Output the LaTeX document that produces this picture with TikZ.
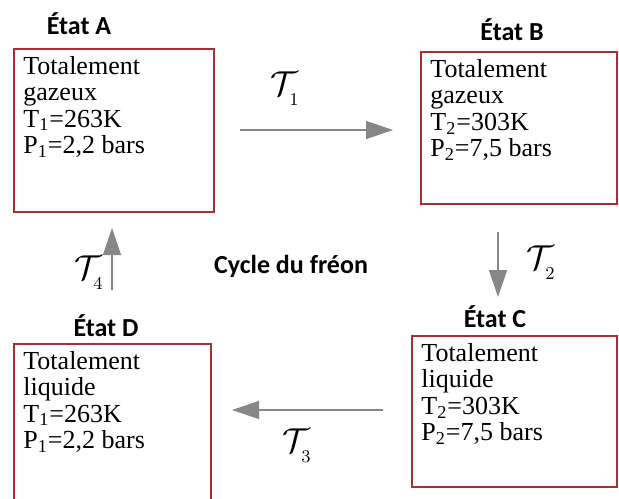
\documentclass[tikz,border=0pt]{standalone}
\usepackage{fontspec}
\setmainfont{Liberation Serif}
\newfontfamily\titrefont{Carlito}
\usetikzlibrary{arrows.meta}

\definecolor{bordure}{RGB}{168,48,48}
\definecolor{gris}{RGB}{135,135,135}

\tikzset{
  etat/.style={draw=bordure, line width=0.6pt, rectangle, anchor=north west, inner sep=0pt, outer sep=0pt},
  contenu/.style={anchor=north west, align=left, inner xsep=4.5pt, inner ysep=3.5pt,
    font=\fontsize{13}{13.2}\selectfont},
  titre/.style={font=\titrefont\bfseries\fontsize{13}{15}\selectfont},
  fleche/.style={draw=gris, line width=0.6pt, -{Triangle[length=13.5pt,width=9pt,fill=gris]}},
  transfo/.style={font=\fontsize{19}{21}\selectfont}
}
\newcommand{\transf}[1]{$\mathcal{T}_{\lower2.5pt\hbox{$\scriptscriptstyle #1$}}$}

\begin{document}
\begin{tikzpicture}[x=0.5pt,y=-0.5pt]
  % Cadre
  \clip (0,0) rectangle (619,498);
  % Etats
  \node[etat, minimum width=100pt, minimum height=81.5pt] (A) at (14,49) {};
  \node[etat, minimum width=98pt, minimum height=76pt] (B) at (421,52) {};
  \node[etat, minimum width=102.5pt, minimum height=75.5pt] (C) at (412,336) {};
  \node[etat, minimum width=98.5pt, minimum height=88pt] (D) at (14,344) {};
  % Contenus
  \node[contenu] (cA) at (A.north west) {Totalement\\gazeux\\T\textsubscript{1}=263K\\P\textsubscript{1}=2,2 bars};
  \node[contenu] (cB) at (B.north west) {Totalement\\gazeux\\T\textsubscript{2}=303K\\P\textsubscript{2}=7,5 bars};
  \node[contenu] (cC) at (C.north west) {Totalement\\liquide\\T\textsubscript{2}=303K\\P\textsubscript{2}=7,5 bars};
  \node[contenu] (cD) at (D.north west) {Totalement\\liquide\\T\textsubscript{1}=263K\\P\textsubscript{1}=2,2 bars};
  % Titres
  \node[titre] (tA) at (79,24) {État A};
  \node[titre] (tB) at (512,30) {État B};
  \node[titre] (tC) at (495,317) {État C};
  \node[titre] (tD) at (106,326) {État D};
  \node[titre] (cycle) at (291,266) {Cycle du fréon};
  % Transformations
  \coordinate (d1) at (240,130);  \coordinate (f1) at (393,130);
  \coordinate (d2) at (498,232);  \coordinate (f2) at (498,297);
  \coordinate (d3) at (383,410);  \coordinate (f3) at (232,410);
  \coordinate (d4) at (112,290);  \coordinate (f4) at (112,228);
  \foreach \i in {1,2,3,4}
    \draw[fleche] (d\i) -- (f\i);
  \node[transfo] (T1) at (285,89) {\transf{1}};
  \node[transfo] (T2) at (541,263) {\transf{2}};
  \node[transfo] (T3) at (297,446) {\transf{3}};
  \node[transfo] (T4) at (89,273) {\transf{4}};
\end{tikzpicture}
\end{document}
